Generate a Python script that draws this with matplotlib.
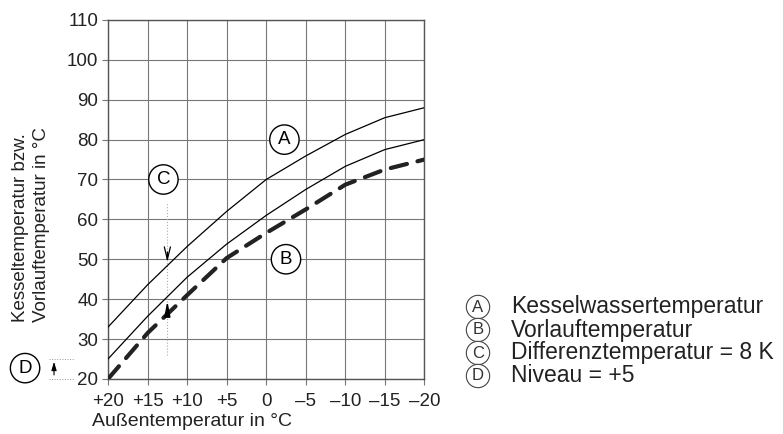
import numpy as np
import matplotlib
matplotlib.use("Agg")
import matplotlib.pyplot as plt
import matplotlib.transforms as mtransforms

plt.rcParams['font.family'] = ['Liberation Sans', 'DejaVu Sans']

# outside temperature (x) and the three curves
aussen = [20, 15, 10, 5, 0, -5, -10, -15, -20]
kessel = [33, 43.6, 53.2, 62, 70, 75.9, 81.3, 85.5, 88]
vorlauf = [25, 35.7, 45.5, 53.8, 61, 67.5, 73.3, 77.5, 80]
vorlauf_niveau = [20, 31.5, 41, 50.3, 56.6, 62.5, 68.7, 72.5, 75]

x_ticks = [20, 15, 10, 5, 0, -5, -10, -15, -20]
x_labels = ['+20', '+15', '+10', '+5', '0', '–5', '–10', '–15', '–20']
y_ticks = [20, 30, 40, 50, 60, 70, 80, 90, 100, 110]

legend_keys = ['A', 'B', 'C', 'D']
legend_texts = ['Kesselwassertemperatur', 'Vorlauftemperatur',
                'Differenztemperatur = 8 K', 'Niveau = +5']

fig = plt.figure(figsize=(7.83, 4.34), dpi=100)
ax = fig.add_axes([0.138, 0.127, 0.404, 0.827])

ax.plot(aussen, kessel, color='black', lw=0.9, zorder=3)
ax.plot(aussen, vorlauf, color='black', lw=0.9, zorder=3)
ax.plot(aussen, vorlauf_niveau, color='#222222', lw=3.0,
        dashes=(4, 2.6), dash_capstyle='round', zorder=3)

ax.set_xlim(20, -20)
ax.set_ylim(20, 110)
ax.set_xticks(x_ticks)
ax.set_xticklabels(x_labels)
ax.set_yticks(y_ticks)
ax.grid(True, color='#777777', lw=0.8)
ax.tick_params(axis='both', length=4, color='#777777', labelsize=13.5,
               colors='#222222', pad=3)
ax.tick_params(axis='x', pad=6)
for s in ax.spines.values():
    s.set_color('#555555')
    s.set_linewidth(1.0)

# axis titles placed by hand
fig.text(31 / 783, 1 - 322 / 434, 'Kesseltemperatur bzw.\nVorlauftemperatur in °C',
         rotation=90, fontsize=13.5, color='#222222', ha='center', va='bottom',
         multialignment='left', linespacing=1.3)
fig.text(0.117, 1 - 422 / 434, 'Außentemperatur in °C', fontsize=14,
         color='#222222', ha='left', va='center')

circ = dict(boxstyle='circle,pad=0.33', fc='white', ec='black', lw=1.0)
ax.text(-2.3, 80, 'A', fontsize=13.5, ha='center', va='center', bbox=circ, zorder=4)
ax.text(-2.5, 50, 'B', fontsize=13.5, ha='center', va='center', bbox=circ, zorder=4)
ax.text(13.0, 70, 'C', fontsize=13.5, ha='center', va='center', bbox=circ, zorder=4)

# C marker: dotted line with the two arrows
ax.plot([12.5, 12.5], [26, 64], color='#aaaaaa', lw=0.8, ls=':', zorder=2)
ax.annotate('', xy=(12.5, 48.6), xytext=(12.5, 52.5),
            arrowprops=dict(arrowstyle='->,head_length=0.9,head_width=0.22',
                            color='black', lw=0.9), zorder=4)
ax.annotate('', xy=(12.5, 40.2), xytext=(12.5, 35.3),
            arrowprops=dict(arrowstyle='-|>,head_length=0.9,head_width=0.18',
                            color='black', lw=1.0), zorder=4)

# D marker outside the axes
tr = mtransforms.blended_transform_factory(fig.transFigure, ax.transData)
for lvl in (20, 25):
    ax.plot([0.062, 0.095], [lvl, lvl], transform=tr, color='#999999',
            lw=0.7, ls=':', clip_on=False)
ax.annotate('', xy=(0.069, 25), xytext=(0.069, 20.3), xycoords=tr,
            textcoords=tr,
            arrowprops=dict(arrowstyle='-|>,head_length=0.5,head_width=0.15',
                            color='black', lw=0.8), annotation_clip=False)
ax.text(0.032, 22.7, 'D', transform=tr, fontsize=13.5, ha='center',
        va='center', bbox=circ, clip_on=False)

# legend on the right
small = dict(boxstyle='circle,pad=0.25', fc='white', ec='#444444', lw=0.8)
rows = [307, 330, 353, 376]
for key, txt, yy in zip(legend_keys, legend_texts, rows):
    fig.text(478 / 783, 1 - yy / 434, key, fontsize=12, ha='center', va='center',
             color='#333333', bbox=small)
    fig.text(511 / 783, 1 - yy / 434, txt, fontsize=16.5, ha='left', va='center',
             color='#222222')

fig.savefig('out.png', dpi=100)
